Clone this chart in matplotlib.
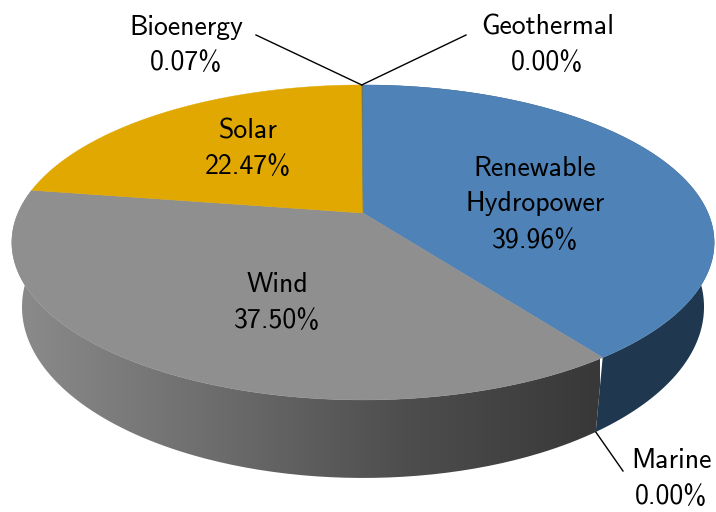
import numpy as np
import matplotlib
matplotlib.use('Agg')
import matplotlib.pyplot as plt
from matplotlib.path import Path
from matplotlib.patches import PathPatch

# clockwise from 12 o'clock
names = ['Renewable\nHydropower', 'Marine', 'Wind', 'Solar', 'Bioenergy', 'Geothermal']
values = [39.96, 0.00, 37.50, 22.47, 0.07, 0.00]
top_colors = ['#4f83b8', '#1f3850', '#8f8f8f', '#e0a800', '#6b7a70', '#6b7a70']

fig = plt.figure(figsize=(7.16, 5.12), dpi=100)
ax = fig.add_axes([0, 0, 1, 1])
ax.set_xlim(0, 716)
ax.set_ylim(512, 0)
ax.axis('off')

# perspective of the disc: the centre of the pie sits above the ellipse centre
K = 0.187

def project(theta, r=1.0, x0=363, y0=213, a=152, b=345):
    u = r * np.sin(theta)
    v = -r * np.cos(theta)
    w = 1 - K * v
    return x0 + b * u / w, y0 + a * v / w

def bottom(theta):
    return project(theta, x0=363, y0=275, a=165, b=335)

edges = np.radians(np.cumsum([0] + values) / 100 * 360)

# side wall first, the top face covers what sticks out at the back
for i in range(len(values)):
    t = np.linspace(edges[i], edges[i + 1], 200)
    xt, yt = project(t)
    xb, yb = bottom(t)
    xs = np.r_[xt, xb[::-1]]
    ys = np.r_[yt, yb[::-1]]
    if values[i] == 0:
        continue
    if names[i] == 'Wind':
        patch = PathPatch(Path(np.c_[xs, ys]), fc='none', ec='none')
        ax.add_patch(patch)
        grad = np.linspace(0, 1, 256).reshape(1, -1)
        im = ax.imshow(grad, extent=[10, 600, 512, 0], cmap=matplotlib.colors.LinearSegmentedColormap.from_list(
            'side', ['#8c8c8c', '#6e6e6e', '#4e4e4e', '#383838']), aspect='auto', zorder=1)
        im.set_clip_path(patch)
    elif names[i].startswith('Renewable'):
        ax.fill(xs, ys, color='#1f3850', lw=0, zorder=1)
ax.set_xlim(0, 716)
ax.set_ylim(512, 0)

# top face
for i in range(len(values)):
    if values[i] == 0:
        continue
    t = np.linspace(edges[i], edges[i + 1], 200)
    xt, yt = project(t)
    x0, y0 = project(0.0, r=0.0)
    ax.fill(np.r_[x0, xt], np.r_[y0, yt], color=top_colors[i], lw=0.3, zorder=2)

# leader lines
tx, ty = project(edges[4])
ax.plot([256, tx], [35, ty], color='black', lw=1, zorder=3)
ax.plot([466, tx], [35, ty], color='black', lw=1, zorder=3)
mx, my = bottom(edges[1])
ax.plot([623, mx], [471, my], color='black', lw=1, zorder=3)

labels = [
    ('Bioenergy', 186, 27), ('0.07%', 186, 63),
    ('Geothermal', 548, 27), ('0.00%', 547, 63),
    ('Solar', 248, 131), ('22.47%', 248, 167),
    ('Renewable', 535, 168), ('Hydropower', 535, 204), ('39.96%', 535, 240),
    ('Wind', 277, 284), ('37.50%', 277, 320),
    ('Marine', 671, 460), ('0.00%', 671, 497),
]
for txt, x, y in labels:
    ax.text(x, y, txt, family='cmss10', fontsize=20, ha='center', va='center', color='black', zorder=4)

fig.savefig('out.png', dpi=100)
